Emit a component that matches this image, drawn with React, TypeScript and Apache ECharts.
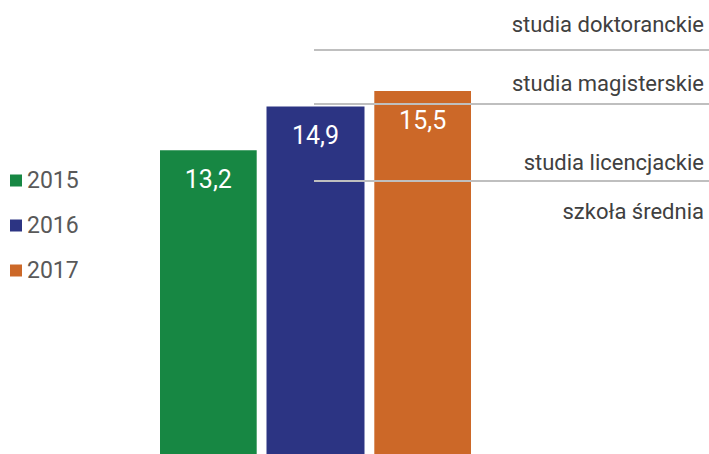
import React, { useEffect, useRef } from 'react';
import * as echarts from 'echarts';

const years = ['2015', '2016', '2017'];
const values = [13.2, 14.9, 15.5];
const barColors = ['#178743', '#2C3483', '#CC6828'];
const levelBounds = [17.1, 15, 12];
const levelNames = ['studia doktoranckie', 'studia magisterskie', 'studia licencjackie', 'szkoła średnia'];

const FONT = 'Roboto, "Noto Sans", sans-serif';

export default function App() {
  const ref = useRef<HTMLDivElement>(null);
  useEffect(() => {
    if (!ref.current) return;
    const chart = echarts.init(ref.current, undefined, { renderer: 'svg' });

    const lineStyle = { color: '#BFBFBF', width: 2, type: 'solid' as const };
    const labelDist = [[5, 15], [5, 9], [5, 7]];
    const markData: any[] = levelBounds.map((b, i) => [
      {
        x: 314,
        yAxis: b,
        lineStyle,
        label: {
          show: true,
          position: 'insideEndTop',
          formatter: levelNames[i],
          distance: labelDist[i],
          color: '#404040',
          fontSize: 22,
          fontFamily: FONT,
        },
      },
      { x: 709, yAxis: b },
    ]);
    markData.push([
      {
        x: 314,
        yAxis: levelBounds[2],
        lineStyle: { color: 'rgba(0,0,0,0)', width: 0 },
        label: {
          show: true,
          position: 'insideEndBottom',
          formatter: levelNames[3],
          distance: [5, 20],
          color: '#404040',
          fontSize: 22,
          fontFamily: FONT,
        },
      },
      { x: 709, yAxis: levelBounds[2] },
    ]);

    const series: any[] = years.map((y, i) => ({
      name: y,
      type: 'bar',
      data: [values[i]],
      barWidth: 98,
      barGap: '10%',
      itemStyle: { color: barColors[i] },
      label: {
        show: true,
        position: 'insideTop',
        distance: 17,
        color: '#FFFFFF',
        fontSize: 25,
        fontFamily: FONT,
        formatter: (p: any) => String(p.value).replace('.', ','),
      },
      ...(i === 2
        ? {
            markLine: {
              silent: true,
              symbol: 'none',
              animation: false,
              data: markData,
            },
          }
        : {}),
    }));

    chart.setOption({
      animation: false,
      legend: {
        orient: 'vertical',
        left: 10,
        top: 169,
        padding: 0,
        itemWidth: 12,
        itemHeight: 12,
        itemGap: 22,
        icon: 'rect',
        textStyle: { fontSize: 23, color: '#595959', fontFamily: FONT },
        data: years,
      },
      grid: { left: 160, right: 238, top: 26.9, bottom: 0, containLabel: false },
      xAxis: {
        type: 'category',
        data: [''],
        show: false,
      },
      yAxis: {
        type: 'value',
        min: 0,
        max: 18,
        show: false,
        splitLine: { show: false },
      },
      series,
    });
    return () => chart.dispose();
  }, []);
  return (
    <div style={{ position: 'fixed', left: 0, top: 0, width: 709, height: 454, overflow: 'hidden', background: '#fff' }}>
      <div ref={ref} style={{ width: 709, height: 489 }} />
    </div>
  );
}
